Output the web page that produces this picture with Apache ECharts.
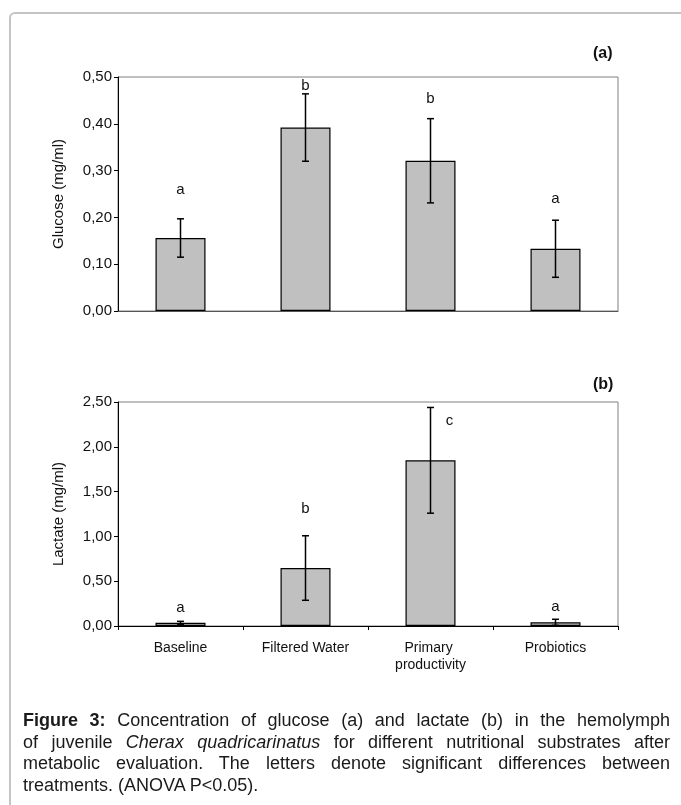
<!DOCTYPE html>
<html>
<head>
<meta charset="utf-8">
<script src="https://cdn.jsdelivr.net/npm/echarts@6/dist/echarts.min.js"></script>
<style>
	body { margin: 0; background: #fff; font-family: "Liberation Sans", Arial, sans-serif; }
	#frame { position: absolute; left: 9px; top: 12px; width: 700px; height: 820px; border: 2px solid #c4c4c4; border-radius: 6px; }
	#chart { position: absolute; left: 0; top: 0; width: 681px; height: 805px; }
	#caption { position: absolute; left: 23px; top: 710px; width: 647px; font-size: 18px; line-height: 21.5px; color: #1a1a1a; }
	#caption div { text-align: justify; text-align-last: justify; white-space: nowrap; }
	#caption div.last { text-align-last: left; }
</style>
</head>
<body>
<div id="frame"></div>
<div id="chart"></div>
<div id="caption">
	<div><b>Figure 3:</b> Concentration of glucose (a) and lactate (b) in the hemolymph</div>
	<div>of juvenile <i>Cherax quadricarinatus</i> for different nutritional substrates after</div>
	<div>metabolic evaluation. The letters denote significant differences between</div>
	<div class="last">treatments. (ANOVA P&lt;0.05).</div>
</div>
<script>
	var categories = ['Baseline', 'Filtered Water', 'Primary productivity', 'Probiotics'];

	// (a) glucose, mg/ml
	var glucoseMean = [0.156, 0.392, 0.321, 0.133];
	var glucoseErr = [0.041, 0.072, 0.090, 0.061];
	var glucoseLetters = ['a', 'b', 'b', 'a'];
	var glucoseLetterAt = [0.259, 0.482, 0.454, 0.240];
	var glucoseTicks = [0, 0.5, 0.1];

	// (b) lactate, mg/ml
	var lactateMean = [0.036, 0.647, 1.849, 0.041];
	var lactateErr = [0.016, 0.360, 0.590, 0.034];
	var lactateLetters = ['a', 'b', 'c', 'a'];
	var lactateLetterAt = [0.200, 1.306, 2.288, 0.212];
	var lactateTicks = [0, 2.5, 0.5];

	var font = '"Liberation Sans", Arial, sans-serif';
	var ink = '#111';

	function errData(mean, err) {
		return mean.map(function(m, i) {
			return [i, m - err[i], m + err[i]];
		});
	}

	function letterData(pos, letters) {
		return pos.map(function(v, i) {
			return [i, v, letters[i]];
		});
	}

	function renderErr(params, api) {
		var x = api.value(0);
		var lo = api.coord([x, api.value(1)]);
		var hi = api.coord([x, api.value(2)]);
		var w = 3.5;
		var st = { stroke: '#000', lineWidth: 1.5 };
		return {
			type: 'group',
			children: [
				{ type: 'line', shape: { x1: hi[0], y1: hi[1], x2: lo[0], y2: lo[1] }, style: st },
				{ type: 'line', shape: { x1: hi[0] - w, y1: hi[1], x2: hi[0] + w, y2: hi[1] }, style: st },
				{ type: 'line', shape: { x1: lo[0] - w, y1: lo[1], x2: lo[0] + w, y2: lo[1] }, style: st }
			]
		};
	}

	function renderLetter(params, api) {
		var p = api.coord([api.value(0), api.value(1)]);
		var txt = api.value(2);
		// the "c" sits beside its error bar
		var dx = txt === 'c' ? 19 : 0;
		return {
			type: 'text',
			x: p[0] + dx,
			y: p[1],
			style: {
				text: txt,
				fill: ink,
				font: '15px ' + font,
				align: 'center',
				verticalAlign: 'middle'
			}
		};
	}

	function yAxis(idx, ticks, name) {
		return {
			type: 'value',
			gridIndex: idx,
			min: ticks[0],
			max: ticks[1],
			interval: ticks[2],
			name: name,
			nameLocation: 'middle',
			nameGap: 52,
			nameTextStyle: { fontFamily: font, fontSize: 15, color: ink },
			axisLine: { show: true, lineStyle: { color: '#000', width: 1 } },
			axisTick: { show: true, length: 4, lineStyle: { color: '#000' } },
			axisLabel: {
				margin: 6,
				fontFamily: font,
				fontSize: 15,
				color: ink,
				formatter: function(v) { return v.toFixed(2).replace('.', ','); }
			},
			splitLine: { show: false }
		};
	}

	function barSeries(idx, mean) {
		return {
			type: 'bar',
			xAxisIndex: idx,
			yAxisIndex: idx,
			data: mean,
			barWidth: 50,
			itemStyle: { color: '#c0c0c0', borderColor: '#000', borderWidth: 1.2 },
			silent: true
		};
	}

	function errSeries(idx, mean, err) {
		return {
			type: 'custom',
			xAxisIndex: idx,
			yAxisIndex: idx,
			renderItem: renderErr,
			data: errData(mean, err),
			z: 10,
			silent: true
		};
	}

	function letterSeries(idx, pos, letters) {
		return {
			type: 'custom',
			xAxisIndex: idx,
			yAxisIndex: idx,
			renderItem: renderLetter,
			dimensions: ['x', 'y', { name: 'letter', type: 'ordinal' }],
			data: letterData(pos, letters),
			z: 11,
			silent: true
		};
	}

	var chart = echarts.init(document.getElementById('chart'));
	chart.setOption({
		animation: false,
		title: [
			{ text: '(a)', left: 588, top: 41, textStyle: { fontFamily: font, fontSize: 16, fontWeight: 'bold', color: ink } },
			{ text: '(b)', left: 588, top: 372, textStyle: { fontFamily: font, fontSize: 16, fontWeight: 'bold', color: ink } }
		],
		grid: [
			{ left: 118, top: 77, width: 500, height: 234, show: true, borderColor: '#808080', borderWidth: 1 },
			{ left: 118, top: 402, width: 500, height: 224, show: true, borderColor: '#808080', borderWidth: 1 }
		],
		xAxis: [{
			type: 'category',
			gridIndex: 0,
			data: categories,
			axisLine: { lineStyle: { color: '#555' } },
			axisTick: { show: false },
			axisLabel: { show: false }
		}, {
			type: 'category',
			gridIndex: 1,
			data: categories,
			axisLine: { lineStyle: { color: '#000' } },
			axisTick: { show: true, length: 4, lineStyle: { color: '#000' } },
			axisLabel: {
				margin: 14,
				interval: 0,
				width: 105,
				overflow: 'break',
				lineHeight: 17,
				fontFamily: font,
				fontSize: 14,
				color: ink
			}
		}],
		yAxis: [
			yAxis(0, glucoseTicks, 'Glucose (mg/ml)'),
			yAxis(1, lactateTicks, 'Lactate (mg/ml)')
		],
		series: [
			barSeries(0, glucoseMean),
			errSeries(0, glucoseMean, glucoseErr),
			letterSeries(0, glucoseLetterAt, glucoseLetters),
			barSeries(1, lactateMean),
			errSeries(1, lactateMean, lactateErr),
			letterSeries(1, lactateLetterAt, lactateLetters)
		]
	});
</script>
</body>
</html>
